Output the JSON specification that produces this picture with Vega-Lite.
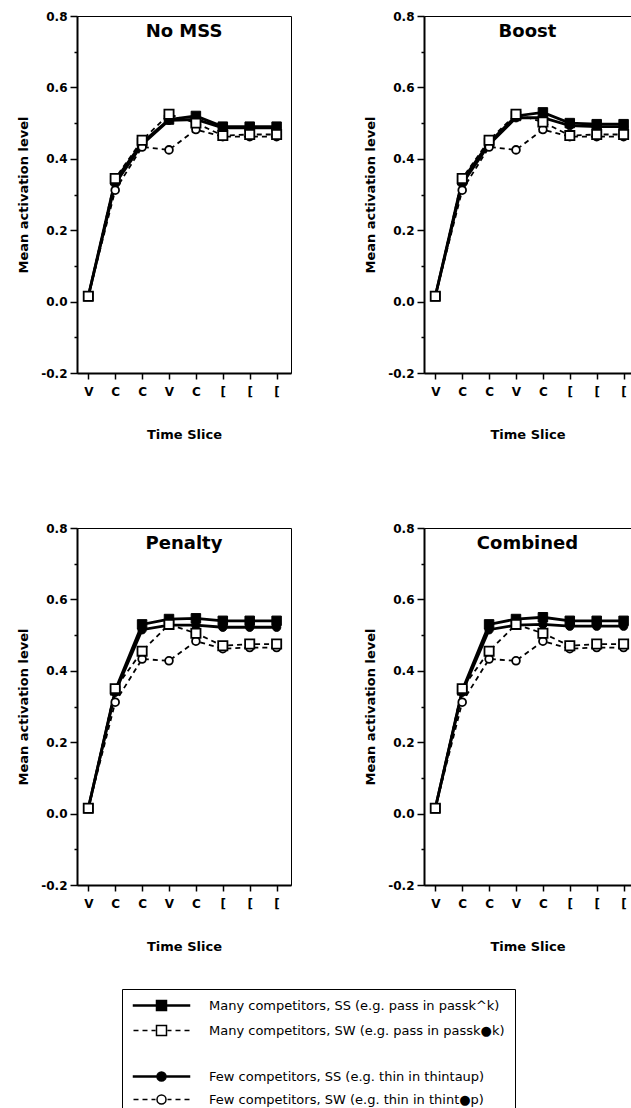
{
  "$schema": "https://vega.github.io/schema/vega-lite/v6.json",
  "padding": {"left": 17, "top": 9, "right": 0, "bottom": 0},
  "background": "white",
  "data": {"values": [
    {"p":"No MSS","s":"MSS","t":0,"v":0.015},{"p":"No MSS","s":"MSS","t":1,"v":0.34},{"p":"No MSS","s":"MSS","t":2,"v":0.445},{"p":"No MSS","s":"MSS","t":3,"v":0.51},{"p":"No MSS","s":"MSS","t":4,"v":0.52},{"p":"No MSS","s":"MSS","t":5,"v":0.49},{"p":"No MSS","s":"MSS","t":6,"v":0.49},{"p":"No MSS","s":"MSS","t":7,"v":0.49},
    {"p":"No MSS","s":"MSW","t":0,"v":0.015},{"p":"No MSS","s":"MSW","t":1,"v":0.345},{"p":"No MSS","s":"MSW","t":2,"v":0.452},{"p":"No MSS","s":"MSW","t":3,"v":0.525},{"p":"No MSS","s":"MSW","t":4,"v":0.5},{"p":"No MSS","s":"MSW","t":5,"v":0.465},{"p":"No MSS","s":"MSW","t":6,"v":0.468},{"p":"No MSS","s":"MSW","t":7,"v":0.468},
    {"p":"No MSS","s":"FSS","t":0,"v":0.015},{"p":"No MSS","s":"FSS","t":1,"v":0.33},{"p":"No MSS","s":"FSS","t":2,"v":0.44},{"p":"No MSS","s":"FSS","t":3,"v":0.508},{"p":"No MSS","s":"FSS","t":4,"v":0.51},{"p":"No MSS","s":"FSS","t":5,"v":0.487},{"p":"No MSS","s":"FSS","t":6,"v":0.487},{"p":"No MSS","s":"FSS","t":7,"v":0.487},
    {"p":"No MSS","s":"FSW","t":0,"v":0.015},{"p":"No MSS","s":"FSW","t":1,"v":0.312},{"p":"No MSS","s":"FSW","t":2,"v":0.433},{"p":"No MSS","s":"FSW","t":3,"v":0.425},{"p":"No MSS","s":"FSW","t":4,"v":0.482},{"p":"No MSS","s":"FSW","t":5,"v":0.462},{"p":"No MSS","s":"FSW","t":6,"v":0.462},{"p":"No MSS","s":"FSW","t":7,"v":0.462},
    {"p":"Boost","s":"MSS","t":0,"v":0.015},{"p":"Boost","s":"MSS","t":1,"v":0.34},{"p":"Boost","s":"MSS","t":2,"v":0.445},{"p":"Boost","s":"MSS","t":3,"v":0.52},{"p":"Boost","s":"MSS","t":4,"v":0.53},{"p":"Boost","s":"MSS","t":5,"v":0.5},{"p":"Boost","s":"MSS","t":6,"v":0.497},{"p":"Boost","s":"MSS","t":7,"v":0.497},
    {"p":"Boost","s":"MSW","t":0,"v":0.015},{"p":"Boost","s":"MSW","t":1,"v":0.345},{"p":"Boost","s":"MSW","t":2,"v":0.452},{"p":"Boost","s":"MSW","t":3,"v":0.525},{"p":"Boost","s":"MSW","t":4,"v":0.503},{"p":"Boost","s":"MSW","t":5,"v":0.465},{"p":"Boost","s":"MSW","t":6,"v":0.468},{"p":"Boost","s":"MSW","t":7,"v":0.468},
    {"p":"Boost","s":"FSS","t":0,"v":0.015},{"p":"Boost","s":"FSS","t":1,"v":0.33},{"p":"Boost","s":"FSS","t":2,"v":0.44},{"p":"Boost","s":"FSS","t":3,"v":0.515},{"p":"Boost","s":"FSS","t":4,"v":0.515},{"p":"Boost","s":"FSS","t":5,"v":0.493},{"p":"Boost","s":"FSS","t":6,"v":0.49},{"p":"Boost","s":"FSS","t":7,"v":0.49},
    {"p":"Boost","s":"FSW","t":0,"v":0.015},{"p":"Boost","s":"FSW","t":1,"v":0.312},{"p":"Boost","s":"FSW","t":2,"v":0.433},{"p":"Boost","s":"FSW","t":3,"v":0.425},{"p":"Boost","s":"FSW","t":4,"v":0.482},{"p":"Boost","s":"FSW","t":5,"v":0.462},{"p":"Boost","s":"FSW","t":6,"v":0.462},{"p":"Boost","s":"FSW","t":7,"v":0.462},
    {"p":"Penalty","s":"MSS","t":0,"v":0.015},{"p":"Penalty","s":"MSS","t":1,"v":0.345},{"p":"Penalty","s":"MSS","t":2,"v":0.53},{"p":"Penalty","s":"MSS","t":3,"v":0.545},{"p":"Penalty","s":"MSS","t":4,"v":0.547},{"p":"Penalty","s":"MSS","t":5,"v":0.54},{"p":"Penalty","s":"MSS","t":6,"v":0.54},{"p":"Penalty","s":"MSS","t":7,"v":0.54},
    {"p":"Penalty","s":"MSW","t":0,"v":0.015},{"p":"Penalty","s":"MSW","t":1,"v":0.35},{"p":"Penalty","s":"MSW","t":2,"v":0.455},{"p":"Penalty","s":"MSW","t":3,"v":0.53},{"p":"Penalty","s":"MSW","t":4,"v":0.505},{"p":"Penalty","s":"MSW","t":5,"v":0.47},{"p":"Penalty","s":"MSW","t":6,"v":0.475},{"p":"Penalty","s":"MSW","t":7,"v":0.475},
    {"p":"Penalty","s":"FSS","t":0,"v":0.015},{"p":"Penalty","s":"FSS","t":1,"v":0.34},{"p":"Penalty","s":"FSS","t":2,"v":0.515},{"p":"Penalty","s":"FSS","t":3,"v":0.528},{"p":"Penalty","s":"FSS","t":4,"v":0.528},{"p":"Penalty","s":"FSS","t":5,"v":0.522},{"p":"Penalty","s":"FSS","t":6,"v":0.522},{"p":"Penalty","s":"FSS","t":7,"v":0.522},
    {"p":"Penalty","s":"FSW","t":0,"v":0.015},{"p":"Penalty","s":"FSW","t":1,"v":0.312},{"p":"Penalty","s":"FSW","t":2,"v":0.433},{"p":"Penalty","s":"FSW","t":3,"v":0.428},{"p":"Penalty","s":"FSW","t":4,"v":0.483},{"p":"Penalty","s":"FSW","t":5,"v":0.462},{"p":"Penalty","s":"FSW","t":6,"v":0.465},{"p":"Penalty","s":"FSW","t":7,"v":0.465},
    {"p":"Combined","s":"MSS","t":0,"v":0.015},{"p":"Combined","s":"MSS","t":1,"v":0.345},{"p":"Combined","s":"MSS","t":2,"v":0.53},{"p":"Combined","s":"MSS","t":3,"v":0.545},{"p":"Combined","s":"MSS","t":4,"v":0.55},{"p":"Combined","s":"MSS","t":5,"v":0.54},{"p":"Combined","s":"MSS","t":6,"v":0.54},{"p":"Combined","s":"MSS","t":7,"v":0.54},
    {"p":"Combined","s":"MSW","t":0,"v":0.015},{"p":"Combined","s":"MSW","t":1,"v":0.35},{"p":"Combined","s":"MSW","t":2,"v":0.455},{"p":"Combined","s":"MSW","t":3,"v":0.53},{"p":"Combined","s":"MSW","t":4,"v":0.505},{"p":"Combined","s":"MSW","t":5,"v":0.47},{"p":"Combined","s":"MSW","t":6,"v":0.475},{"p":"Combined","s":"MSW","t":7,"v":0.475},
    {"p":"Combined","s":"FSS","t":0,"v":0.015},{"p":"Combined","s":"FSS","t":1,"v":0.34},{"p":"Combined","s":"FSS","t":2,"v":0.515},{"p":"Combined","s":"FSS","t":3,"v":0.528},{"p":"Combined","s":"FSS","t":4,"v":0.53},{"p":"Combined","s":"FSS","t":5,"v":0.525},{"p":"Combined","s":"FSS","t":6,"v":0.525},{"p":"Combined","s":"FSS","t":7,"v":0.525},
    {"p":"Combined","s":"FSW","t":0,"v":0.015},{"p":"Combined","s":"FSW","t":1,"v":0.312},{"p":"Combined","s":"FSW","t":2,"v":0.433},{"p":"Combined","s":"FSW","t":3,"v":0.428},{"p":"Combined","s":"FSW","t":4,"v":0.483},{"p":"Combined","s":"FSW","t":5,"v":0.462},{"p":"Combined","s":"FSW","t":6,"v":0.465},{"p":"Combined","s":"FSW","t":7,"v":0.465}
  ]},
  "spacing": 79,
  "vconcat": [
    {"spacing": 72, "hconcat": [
      {"width": 214, "height": 357, "title": {"text": "No MSS"},
       "transform": [{"filter": "datum.p === 'No MSS'"}],
       "encoding": {
         "x": {"field": "t", "type": "quantitative", "scale": {"domain": [-0.42, 7.535], "nice": false, "zero": false}, "axis": {"title": "Time Slice", "values": [0,1,2,3,4,5,6,7], "labelExpr": "['V','C','C','V','C','[','[','['][datum.value]"}},
         "y": {"field": "v", "type": "quantitative", "scale": {"domain": [-0.2, 0.8], "nice": false, "zero": false}, "axis": {"title": "Mean activation level", "values": [-0.2,-0.1,0,0.1,0.2,0.3,0.4,0.5,0.6,0.7,0.8], "labelExpr": "round(datum.value*10)%2===0 ? replace(format(datum.value,'.1f'),'\u2212','-') : ''", "tickSize": {"condition": {"test": "round(datum.value*10)%2===0", "value": 7}, "value": 3}}}
       },
       "layer": [
         {"transform": [{"filter": "datum.s === 'MSS' || datum.s === 'FSS'"}], "mark": {"type": "line", "color": "black", "strokeWidth": 2.8}, "encoding": {"detail": {"field": "s", "type": "nominal"}}},
         {"transform": [{"filter": "datum.s === 'MSW' || datum.s === 'FSW'"}], "mark": {"type": "line", "color": "black", "strokeWidth": 1.8, "strokeDash": [5, 4]}, "encoding": {"detail": {"field": "s", "type": "nominal"}}},
         {"transform": [{"filter": "datum.s === 'FSS'"}], "mark": {"type": "point", "shape": "circle", "filled": true, "fill": "black", "stroke": "black", "strokeWidth": 1, "size": 70, "opacity": 1}},
         {"transform": [{"filter": "datum.s === 'MSS'"}], "mark": {"type": "point", "shape": "square", "filled": true, "fill": "black", "stroke": "black", "strokeWidth": 1, "size": 90, "opacity": 1}},
         {"transform": [{"filter": "datum.s === 'FSW'"}], "mark": {"type": "point", "shape": "circle", "filled": true, "fill": "white", "stroke": "black", "strokeWidth": 1.8, "size": 60, "opacity": 1}},
         {"transform": [{"filter": "datum.s === 'MSW'"}], "mark": {"type": "point", "shape": "square", "filled": true, "fill": "white", "stroke": "black", "strokeWidth": 1.8, "size": 85, "opacity": 1}},
         {"transform": [{"filter": "false"}], "mark": {"type": "point", "filled": true, "stroke": "black", "strokeWidth": 1.5, "size": 100, "opacity": 1},
          "encoding": {
            "shape": {"field": "s", "type": "nominal",
              "scale": {"domain": ["MSS","MSW","gap","FSS","FSW"], "range": [
                "M-5.6,-0.12H-1V0.12H-5.6Z M1,-0.12H5.6V0.12H1Z M-1,-1H1V1H-1Z",
                "M-5.6,0H-4.6 M-3.8,0H-2.8 M-2,0H-1.2 M1.2,0H2 M2.8,0H3.8 M4.6,0H5.6 M-1,-1H1V1H-1Z",
                "M0,0",
                "M-5.6,-0.12H-0.9V0.12H-5.6Z M0.9,-0.12H5.6V0.12H0.9Z M-0.9,0A0.9,0.9,0,1,1,0.9,0A0.9,0.9,0,1,1,-0.9,0Z",
                "M-5.6,0H-4.6 M-3.8,0H-2.8 M-2,0H-1.2 M1.2,0H2 M2.8,0H3.8 M4.6,0H5.6 M-0.9,0A0.9,0.9,0,1,1,0.9,0A0.9,0.9,0,1,1,-0.9,0Z"]},
              "legend": {"title": null, "orient": "none", "legendX": 45, "legendY": 973, "direction": "vertical", "strokeColor": "black", "fillColor": "white", "padding": 10, "labelFont": "DejaVu Sans", "labelFontSize": 13, "labelColor": "black", "labelLimit": 500, "symbolSize": 100, "symbolOffset": 23, "labelOffset": 41, "rowPadding": 8, "symbolStrokeColor": "black", "symbolStrokeWidth": 1.5,
                "labelExpr": "datum.label === 'MSS' ? 'Many competitors, SS (e.g. pass in passk^k)' : datum.label === 'MSW' ? 'Many competitors, SW (e.g. pass in passk\u25cfk)' : datum.label === 'FSS' ? 'Few competitors, SS (e.g. thin in thintaup)' : datum.label === 'FSW' ? 'Few competitors, SW (e.g. thin in thint\u25cfp)' : ''"}},
            "fill": {"field": "s", "type": "nominal",
              "scale": {"domain": ["MSS","MSW","gap","FSS","FSW"], "range": ["black","white","transparent","black","white"]},
              "legend": {"title": null, "orient": "none", "legendX": 45, "legendY": 973, "direction": "vertical", "strokeColor": "black", "fillColor": "white", "padding": 10, "labelFont": "DejaVu Sans", "labelFontSize": 13, "labelColor": "black", "labelLimit": 500, "symbolSize": 100, "symbolOffset": 23, "labelOffset": 41, "rowPadding": 8, "symbolStrokeColor": "black", "symbolStrokeWidth": 1.5,
                "labelExpr": "datum.label === 'MSS' ? 'Many competitors, SS (e.g. pass in passk^k)' : datum.label === 'MSW' ? 'Many competitors, SW (e.g. pass in passk\u25cfk)' : datum.label === 'FSS' ? 'Few competitors, SS (e.g. thin in thintaup)' : datum.label === 'FSW' ? 'Few competitors, SW (e.g. thin in thint\u25cfp)' : ''"}},
            "stroke": {"field": "s", "type": "nominal",
              "scale": {"domain": ["MSS","MSW","gap","FSS","FSW"], "range": ["black","black","black","black","black"]},
              "legend": {"title": null, "orient": "none", "legendX": 45, "legendY": 973, "direction": "vertical", "strokeColor": "black", "fillColor": "white", "padding": 10, "labelFont": "DejaVu Sans", "labelFontSize": 13, "labelColor": "black", "labelLimit": 500, "symbolSize": 100, "symbolOffset": 23, "labelOffset": 41, "rowPadding": 8, "symbolStrokeColor": "black", "symbolStrokeWidth": 1.5,
                "labelExpr": "datum.label === 'MSS' ? 'Many competitors, SS (e.g. pass in passk^k)' : datum.label === 'MSW' ? 'Many competitors, SW (e.g. pass in passk\u25cfk)' : datum.label === 'FSS' ? 'Few competitors, SS (e.g. thin in thintaup)' : datum.label === 'FSW' ? 'Few competitors, SW (e.g. thin in thint\u25cfp)' : ''"}}
          }}
       ]},
      {"width": 207, "height": 357, "title": {"text": "Boost"},
       "transform": [{"filter": "datum.p === 'Boost'"}],
       "encoding": {
         "x": {"field": "t", "type": "quantitative", "scale": {"domain": [-0.42, 7.275], "nice": false, "zero": false}, "axis": {"title": "Time Slice", "values": [0,1,2,3,4,5,6,7], "labelExpr": "['V','C','C','V','C','[','[','['][datum.value]"}},
         "y": {"field": "v", "type": "quantitative", "scale": {"domain": [-0.2, 0.8], "nice": false, "zero": false}, "axis": {"title": "Mean activation level", "values": [-0.2,-0.1,0,0.1,0.2,0.3,0.4,0.5,0.6,0.7,0.8], "labelExpr": "round(datum.value*10)%2===0 ? replace(format(datum.value,'.1f'),'\u2212','-') : ''", "tickSize": {"condition": {"test": "round(datum.value*10)%2===0", "value": 7}, "value": 3}}}
       },
       "layer": [
         {"transform": [{"filter": "datum.s === 'MSS' || datum.s === 'FSS'"}], "mark": {"type": "line", "color": "black", "strokeWidth": 2.8}, "encoding": {"detail": {"field": "s", "type": "nominal"}}},
         {"transform": [{"filter": "datum.s === 'MSW' || datum.s === 'FSW'"}], "mark": {"type": "line", "color": "black", "strokeWidth": 1.8, "strokeDash": [5, 4]}, "encoding": {"detail": {"field": "s", "type": "nominal"}}},
         {"transform": [{"filter": "datum.s === 'FSS'"}], "mark": {"type": "point", "shape": "circle", "filled": true, "fill": "black", "stroke": "black", "strokeWidth": 1, "size": 70, "opacity": 1}},
         {"transform": [{"filter": "datum.s === 'MSS'"}], "mark": {"type": "point", "shape": "square", "filled": true, "fill": "black", "stroke": "black", "strokeWidth": 1, "size": 90, "opacity": 1}},
         {"transform": [{"filter": "datum.s === 'FSW'"}], "mark": {"type": "point", "shape": "circle", "filled": true, "fill": "white", "stroke": "black", "strokeWidth": 1.8, "size": 60, "opacity": 1}},
         {"transform": [{"filter": "datum.s === 'MSW'"}], "mark": {"type": "point", "shape": "square", "filled": true, "fill": "white", "stroke": "black", "strokeWidth": 1.8, "size": 85, "opacity": 1}}
       ]}
    ]},
    {"spacing": 72, "hconcat": [
      {"width": 214, "height": 357, "title": {"text": "Penalty"},
       "transform": [{"filter": "datum.p === 'Penalty'"}],
       "encoding": {
         "x": {"field": "t", "type": "quantitative", "scale": {"domain": [-0.42, 7.535], "nice": false, "zero": false}, "axis": {"title": "Time Slice", "values": [0,1,2,3,4,5,6,7], "labelExpr": "['V','C','C','V','C','[','[','['][datum.value]"}},
         "y": {"field": "v", "type": "quantitative", "scale": {"domain": [-0.2, 0.8], "nice": false, "zero": false}, "axis": {"title": "Mean activation level", "values": [-0.2,-0.1,0,0.1,0.2,0.3,0.4,0.5,0.6,0.7,0.8], "labelExpr": "round(datum.value*10)%2===0 ? replace(format(datum.value,'.1f'),'\u2212','-') : ''", "tickSize": {"condition": {"test": "round(datum.value*10)%2===0", "value": 7}, "value": 3}}}
       },
       "layer": [
         {"transform": [{"filter": "datum.s === 'MSS' || datum.s === 'FSS'"}], "mark": {"type": "line", "color": "black", "strokeWidth": 2.8}, "encoding": {"detail": {"field": "s", "type": "nominal"}}},
         {"transform": [{"filter": "datum.s === 'MSW' || datum.s === 'FSW'"}], "mark": {"type": "line", "color": "black", "strokeWidth": 1.8, "strokeDash": [5, 4]}, "encoding": {"detail": {"field": "s", "type": "nominal"}}},
         {"transform": [{"filter": "datum.s === 'FSS'"}], "mark": {"type": "point", "shape": "circle", "filled": true, "fill": "black", "stroke": "black", "strokeWidth": 1, "size": 70, "opacity": 1}},
         {"transform": [{"filter": "datum.s === 'MSS'"}], "mark": {"type": "point", "shape": "square", "filled": true, "fill": "black", "stroke": "black", "strokeWidth": 1, "size": 90, "opacity": 1}},
         {"transform": [{"filter": "datum.s === 'FSW'"}], "mark": {"type": "point", "shape": "circle", "filled": true, "fill": "white", "stroke": "black", "strokeWidth": 1.8, "size": 60, "opacity": 1}},
         {"transform": [{"filter": "datum.s === 'MSW'"}], "mark": {"type": "point", "shape": "square", "filled": true, "fill": "white", "stroke": "black", "strokeWidth": 1.8, "size": 85, "opacity": 1}}
       ]},
      {"width": 207, "height": 357, "title": {"text": "Combined"},
       "transform": [{"filter": "datum.p === 'Combined'"}],
       "encoding": {
         "x": {"field": "t", "type": "quantitative", "scale": {"domain": [-0.42, 7.275], "nice": false, "zero": false}, "axis": {"title": "Time Slice", "values": [0,1,2,3,4,5,6,7], "labelExpr": "['V','C','C','V','C','[','[','['][datum.value]"}},
         "y": {"field": "v", "type": "quantitative", "scale": {"domain": [-0.2, 0.8], "nice": false, "zero": false}, "axis": {"title": "Mean activation level", "values": [-0.2,-0.1,0,0.1,0.2,0.3,0.4,0.5,0.6,0.7,0.8], "labelExpr": "round(datum.value*10)%2===0 ? replace(format(datum.value,'.1f'),'\u2212','-') : ''", "tickSize": {"condition": {"test": "round(datum.value*10)%2===0", "value": 7}, "value": 3}}}
       },
       "layer": [
         {"transform": [{"filter": "datum.s === 'MSS' || datum.s === 'FSS'"}], "mark": {"type": "line", "color": "black", "strokeWidth": 2.8}, "encoding": {"detail": {"field": "s", "type": "nominal"}}},
         {"transform": [{"filter": "datum.s === 'MSW' || datum.s === 'FSW'"}], "mark": {"type": "line", "color": "black", "strokeWidth": 1.8, "strokeDash": [5, 4]}, "encoding": {"detail": {"field": "s", "type": "nominal"}}},
         {"transform": [{"filter": "datum.s === 'FSS'"}], "mark": {"type": "point", "shape": "circle", "filled": true, "fill": "black", "stroke": "black", "strokeWidth": 1, "size": 70, "opacity": 1}},
         {"transform": [{"filter": "datum.s === 'MSS'"}], "mark": {"type": "point", "shape": "square", "filled": true, "fill": "black", "stroke": "black", "strokeWidth": 1, "size": 90, "opacity": 1}},
         {"transform": [{"filter": "datum.s === 'FSW'"}], "mark": {"type": "point", "shape": "circle", "filled": true, "fill": "white", "stroke": "black", "strokeWidth": 1.8, "size": 60, "opacity": 1}},
         {"transform": [{"filter": "datum.s === 'MSW'"}], "mark": {"type": "point", "shape": "square", "filled": true, "fill": "white", "stroke": "black", "strokeWidth": 1.8, "size": 85, "opacity": 1}}
       ]}
    ]}
  ],
  "config": {
    "font": "DejaVu Sans",
    "view": {"stroke": "black", "strokeWidth": 1},
    "axis": {"grid": false, "domainColor": "black", "domainWidth": 2, "tickColor": "black", "tickWidth": 1.5, "labelColor": "black", "labelFont": "DejaVu Sans", "labelFontSize": 12, "labelFontWeight": "bold", "titleColor": "black", "titleFont": "DejaVu Sans", "titleFontSize": 13, "titleFontWeight": "bold"},
    "axisX": {"tickSize": 6, "labelPadding": 7, "titlePadding": 31, "labelAngle": 0},
    "axisY": {"labelPadding": 3, "titlePadding": 10},
    "title": {"font": "DejaVu Sans", "fontSize": 18, "fontWeight": "bold", "color": "black", "offset": -31, "anchor": "middle", "baseline": "alphabetic"}
  }
}
